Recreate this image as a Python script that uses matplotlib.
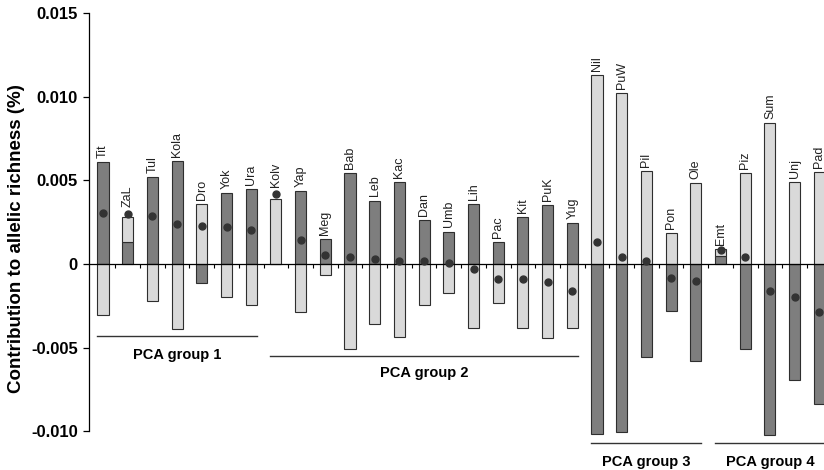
import numpy as np
import matplotlib
matplotlib.use("Agg")
import matplotlib.pyplot as plt

plt.rcParams['font.family'] = ['Liberation Sans', 'DejaVu Sans']

# populations in plotting order
pops = ["Tit", "ZaL", "Tul", "Kola", "Dro", "Yok", "Ura",
        "Kolv", "Yap", "Meg", "Bab", "Leb", "Kac", "Dan", "Umb", "Lih", "Pac", "Kit", "PuK", "Yug",
        "Nil", "PuW", "Pil", "Pon", "Ole",
        "Emt", "Piz", "Sum", "Unj", "Pad"]

# two components of the contribution (x 0.001) and the total
dark = [6.12, 1.33, 5.18, 6.16, -1.12, 4.23, 4.49,
        0.0, 4.37, 1.48, 5.46, 3.79, 4.88, 2.63, 1.94, 3.59, 1.33, 2.83, 3.53, 2.43,
        -10.18, -10.05, -5.58, -2.81, -5.80,
        0.48, -5.10, -10.23, -6.94, -8.37]
light = [-3.05, 1.50, -2.21, -3.89, 3.59, -1.99, -2.45,
         3.91, -2.85, -0.66, -5.10, -3.61, -4.38, -2.45, -1.75, -3.85, -2.35, -3.81, -4.45, -3.85,
         11.30, 10.21, 5.58, 1.87, 4.83,
         0.42, 5.42, 8.41, 4.92, 5.52]
total = [3.03, 2.97, 2.89, 2.39, 2.27, 2.19, 2.03,
         4.19, 1.44, 0.54, 0.40, 0.28, 0.20, 0.20, 0.08, -0.30, -0.90, -0.90, -1.06, -1.60,
         1.30, 0.40, 0.20, -0.82, -1.02,
         0.84, 0.40, -1.61, -1.96, -2.89]

group_names = ["PCA group 1", "PCA group 2", "PCA group 3", "PCA group 4"]
group_sizes = [7, 13, 5, 5]

yticks = [0.015, 0.010, 0.005, 0, -0.005, -0.010]
ytick_labels = ["0.015", "0.010", "0.005", "0", "-0.005", "-0.010"]

dark = np.array(dark) / 1000
light = np.array(light) / 1000
total = np.array(total) / 1000
x = np.arange(len(pops))

DARK = "#7e7e7e"
LIGHT = "#d9d9d9"
EDGE = "#2e2e2e"
W = 0.45

fig = plt.figure(figsize=(8.24, 4.70), dpi=100)
ax = fig.add_axes([89 / 824, 1 - 431.2 / 470, 735 / 824, (431.2 - 13.2) / 470])

# light part sits on top of the dark one when both have the same sign
same = (np.sign(dark) == np.sign(light)) & (dark != 0)
light_bottom = np.where(same, dark, 0)

ax.bar(x, dark, width=W, color=DARK, edgecolor=EDGE, linewidth=0.8, zorder=2, clip_on=False)
ax.bar(x, light, width=W, bottom=light_bottom, color=LIGHT, edgecolor=EDGE, linewidth=0.8,
       zorder=2, clip_on=False)
ax.plot(x, total, 'o', color="#333333", markersize=5, zorder=4)

# population names above the positive part (or above the dot)
for i, name in enumerate(pops):
    top = max(dark[i], light[i] + light_bottom[i], 0)
    if total[i] > top:
        y, off = total[i], 5
    else:
        y, off = top, 3
    ax.annotate(name, (i, y), xytext=(0, off), textcoords="offset points",
                rotation=90, ha="center", va="bottom", fontsize=9, color="#222222")

ax.set_xlim(-0.567, 29.19)
ax.set_ylim(-0.010, 0.015)

ax.spines['top'].set_visible(False)
ax.spines['right'].set_visible(False)
ax.spines['bottom'].set_position(('data', 0))
ax.spines['bottom'].set_linewidth(0.9)
ax.spines['left'].set_linewidth(0.9)

ax.set_xticks(x[:-1] + 0.5)
ax.set_xticklabels([])
ax.tick_params(axis='x', direction='out', length=3, width=0.8)
ax.set_yticks(yticks)
ax.set_yticklabels(ytick_labels, fontweight='bold', fontsize=12)
ax.tick_params(axis='y', direction='out', length=4, width=0.9, pad=4)

ax.set_ylabel("Contribution to allelic richness (%)", fontweight='bold', fontsize=13.5)
ax.yaxis.set_label_coords(-0.087, 0.46)

# group brackets under the bars
line_y = [-0.0043, -0.0055, -0.0107, -0.0107]
text_y = [-0.00545, -0.00652, -0.01184, -0.01184]
start = 0
for name, n, ly, ty in zip(group_names, group_sizes, line_y, text_y):
    first, last = start, start + n - 1
    ax.plot([first - W / 2, last + W / 2], [ly, ly], color="#333333", lw=1, clip_on=False)
    ax.text((first + last) / 2, ty, name, ha="center", va="center",
            fontsize=10.5, fontweight='bold', clip_on=False)
    start += n

fig.savefig("out.png", dpi=100)
